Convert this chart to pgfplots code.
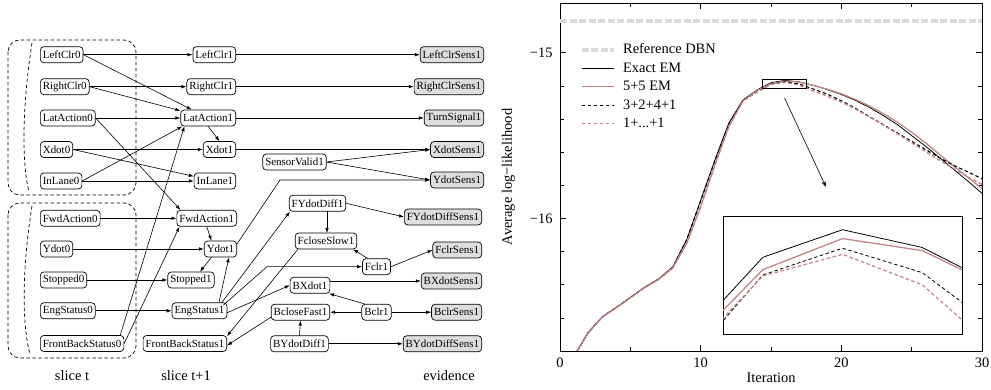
\documentclass[border=0pt]{standalone}
\usepackage{fontspec}
\setmainfont{Liberation Serif}
\usepackage{pgfplots}
\usepackage{pgfplotstable}
\pgfplotsset{compat=1.18}
\usetikzlibrary{arrows.meta}
\definecolor{pinkc}{RGB}{192,135,135}
\definecolor{refgray}{RGB}{218,218,218}
\definecolor{evgray}{RGB}{222,222,222}

\pgfplotstableread{
x exact five three one
1 -16.83 -16.83 -16.83 -16.83
2 -16.689 -16.692 -16.689 -16.692
3 -16.594 -16.596 -16.594 -16.596
4 -16.537 -16.539 -16.537 -16.539
5 -16.477 -16.479 -16.477 -16.479
6 -16.416 -16.418 -16.416 -16.418
7 -16.366 -16.368 -16.366 -16.368
8 -16.295 -16.300 -16.295 -16.300
9 -16.13 -16.15 -16.13 -16.15
10 -15.89 -15.93 -15.895 -15.93
11 -15.65 -15.68 -15.655 -15.68
12 -15.425 -15.445 -15.435 -15.445
13 -15.285 -15.29 -15.29 -15.292
14 -15.225 -15.2287 -15.2366 -15.2336
15 -15.181 -15.1873 -15.190 -15.1905
16 -15.167 -15.1715 -15.1764 -15.1795
17 -15.176 -15.1776 -15.1888 -15.195
18 -15.1966 -15.1972 -15.219 -15.2306
19 -15.222 -15.220 -15.25 -15.262
20 -15.252 -15.248 -15.29 -15.298
21 -15.288 -15.282 -15.335 -15.34
22 -15.33 -15.322 -15.385 -15.387
23 -15.38 -15.368 -15.435 -15.437
24 -15.435 -15.42 -15.485 -15.49
25 -15.50 -15.48 -15.535 -15.543
26 -15.565 -15.545 -15.585 -15.597
27 -15.635 -15.615 -15.635 -15.65
28 -15.705 -15.685 -15.68 -15.70
29 -15.775 -15.752 -15.72 -15.75
30 -15.848 -15.82 -15.76 -15.795
}\datatable

\begin{document}
\begin{tikzpicture}
\useasboundingbox (0,0) rectangle (991bp,390bp);
\begin{scope}[x=1bp,y=-1bp,yshift=390bp,
  nd/.style={draw, rounded corners=3.5bp, minimum height=16bp, inner xsep=2.5bp, inner ysep=0bp, line width=0.7bp, font=\fontsize{11}{13}\selectfont},
  ev/.style={nd, fill=evgray},
  e/.style={-{Latex[length=5bp,width=3.5bp]}, line width=0.6bp},
  grp/.style={dash pattern=on 3.5bp off 2.5bp, line width=0.7bp}]

% ---------- DBN diagram ----------
\draw[grp, rounded corners=12bp] (8,40) rectangle (136,195);
\draw[grp, rounded corners=12bp] (8,203) rectangle (136,358);
\draw[grp] (32,43) .. controls (23,100) and (21,160) .. (29,192);
\draw[grp] (32,206) .. controls (23,262) and (21,322) .. (30,354);

% slice t
\node[nd, anchor=west] (LeftClr0) at (40,54.7) {LeftClr0};
\node[nd, anchor=west] (RightClr0) at (40,86.7) {RightClr0};
\node[nd, anchor=west] (LatAction0) at (40,118) {LatAction0};
\node[nd, anchor=west] (Xdot0) at (40,149.5) {Xdot0};
\node[nd, anchor=west] (InLane0) at (40,181) {InLane0};
\node[nd, anchor=west] (FwdAction0) at (40,218.3) {FwdAction0};
\node[nd, anchor=west] (Ydot0) at (40,249) {Ydot0};
\node[nd, anchor=west] (Stopped0) at (40,280) {Stopped0};
\node[nd, anchor=west] (EngStatus0) at (40,310.8) {EngStatus0};
\node[nd, anchor=west] (FrontBackStatus0) at (40,343.5) {FrontBackStatus0};

% slice t+1
\node[nd, anchor=east] (LeftClr1) at (236,54.7) {LeftClr1};
\node[nd, anchor=east] (RightClr1) at (236,86.7) {RightClr1};
\node[nd, anchor=east] (LatAction1) at (236,118) {LatAction1};
\node[nd, anchor=east] (Xdot1) at (236,149.5) {Xdot1};
\node[nd, anchor=east] (InLane1) at (236,181) {InLane1};
\node[nd, anchor=east] (FwdAction1) at (237,218.3) {FwdAction1};
\node[nd, anchor=east] (Ydot1) at (237,249) {Ydot1};
\node[nd] (Stopped1) at (191,280) {Stopped1};
\node[nd] (EngStatus1) at (199.5,310.8) {EngStatus1};
\node[nd, anchor=east] (FrontBackStatus1) at (227,343.5) {FrontBackStatus1};

% middle
\node[nd] (SensorValid1) at (294.5,162) {SensorValid1};
\node[nd] (FYdotDiff1) at (317.5,203.3) {FYdotDiff1};
\node[nd] (FcloseSlow1) at (326,241) {FcloseSlow1};
\node[nd] (Fclr1) at (376.5,266.7) {Fclr1};
\node[nd] (BXdot1) at (310,285.3) {BXdot1};
\node[nd] (BcloseFast1) at (300.5,312.2) {BcloseFast1};
\node[nd] (Bclr1) at (376.5,312.2) {Bclr1};
\node[nd] (BYdotDiff1) at (299.5,343.8) {BYdotDiff1};

% evidence
\node[ev, anchor=east] (LeftClrSens1) at (484,54.7) {LeftClrSens1};
\node[ev, anchor=east] (RightClrSens1) at (484,86.7) {RightClrSens1};
\node[ev, anchor=east] (TurnSignal1) at (484,118) {TurnSignal1};
\node[ev, anchor=east] (XdotSens1) at (484,149.5) {XdotSens1};
\node[ev, anchor=east] (YdotSens1) at (484,180) {YdotSens1};
\node[ev, anchor=east] (FYdotDiffSens1) at (482,217) {FYdotDiffSens1};
\node[ev, anchor=east] (FclrSens1) at (482,250) {FclrSens1};
\node[ev, anchor=east] (BXdotSens1) at (482,281) {BXdotSens1};
\node[ev, anchor=east] (BclrSens1) at (482,312.2) {BclrSens1};
\node[ev, anchor=east] (BYdotDiffSens1) at (482,343.8) {BYdotDiffSens1};

% edges slice t -> slice t+1
\draw[e] (LeftClr0) -- (LeftClr1);
\draw[e] (LeftClr0.east) -- (LatAction1);
\draw[e] (RightClr0) -- (RightClr1);
\draw[e] (RightClr0.east) -- (LatAction1);
\draw[e] (LatAction0) -- (LatAction1);
\draw[e] (LatAction0.east) -- ([xshift=4bp]FwdAction1.north west);
\draw[e] (Xdot0) -- (Xdot1);
\draw[e] (Xdot0.east) -- (InLane1);
\draw[e] (InLane0) -- (InLane1);
\draw[e] (InLane0.east) -- ([xshift=2bp]LatAction1.south west);
\draw[e] ([xshift=-4bp]FrontBackStatus0.north east) -- ([xshift=4bp]LatAction1.south west);
\draw[e] (FrontBackStatus0.east) -- ([xshift=3bp]FwdAction1.south west);
\draw[e] (FwdAction0) -- (FwdAction1);
\draw[e] (Ydot0) -- (Ydot1);
\draw[e] (Stopped0) -- (Stopped1);
\draw[e] (EngStatus0) -- (EngStatus1);

% intra slice
\draw[e] (LatAction1.south) -- (Xdot1.north);
\draw[e] (FwdAction1.south) -- ([xshift=-9bp]Ydot1.north);
\draw[e] ([xshift=-9bp]Ydot1.south) -- ([xshift=9bp]Stopped1.north);
\draw[e] ([xshift=19.5bp]EngStatus1.north) -- ([xshift=8.5bp]Ydot1.south);

% to evidence
\draw[e] (LeftClr1) -- (LeftClrSens1);
\draw[e] (RightClr1) -- (RightClrSens1);
\draw[e] (LatAction1) -- (TurnSignal1);
\draw[e] (Xdot1) -- (XdotSens1);
\draw[e] (SensorValid1.east) -- (XdotSens1.west);
\draw[e] (SensorValid1.east) -- (YdotSens1.west);
\draw[e] ([yshift=5bp]Ydot1.east) -- (280,180) -- (YdotSens1.west);
\draw[e] (221.5,303) -- ([xshift=1bp]FYdotDiff1.south west);
\draw[e] (223.5,305) -- (267,266.7) -- (Fclr1.west);
\draw[e] (226.5,313) -- (BXdot1.west);
\draw[e] ([xshift=3bp]FcloseSlow1.south west) -- ([yshift=-1bp]FrontBackStatus1.north east);
\draw[e] ([yshift=-5bp]BcloseFast1.west) -- ([yshift=-2bp]FrontBackStatus1.east);
\draw[e] (327,211.3) -- (327,233);
\draw[e] (FYdotDiff1.east) -- (FYdotDiffSens1.west);
\draw[e] ([xshift=-9bp]Fclr1.north) -- ([xshift=-4bp]FcloseSlow1.south east);
\draw[e] (Fclr1.east) -- (FclrSens1.west);
\draw[e] (BXdot1.east |- 0,281) -- (BXdotSens1.west);
\draw[e] ([xshift=3bp]Bclr1.north west) -- ([xshift=-1bp]BXdot1.south east);
\draw[e] (Bclr1) -- (BcloseFast1);
\draw[e] (Bclr1) -- (BclrSens1);
\draw[e] (BYdotDiff1.north) -- (BcloseFast1.south);
\draw[e] (BYdotDiff1) -- (BYdotDiffSens1);

\node[font=\fontsize{14.5}{17}\selectfont] at (72,376) {slice t};
\node[font=\fontsize{14.5}{17}\selectfont] at (186,376) {slice t+1};
\node[font=\fontsize{14.5}{17}\selectfont] at (449,376) {evidence};
\end{scope}

% ---------- Chart ----------
\begin{axis}[at={(560bp,39bp)}, anchor=south west,
  width=422bp, height=348bp, scale only axis,
  xmin=0, xmax=30, ymin=-16.8, ymax=-14.7,
  xtick={0,10,20,30}, minor xtick={5,15,25},
  ytick={-16,-15}, yticklabels={−16,−15},
  minor ytick={-16.6,-16.4,-16.2,-15.8,-15.6,-15.4,-15.2,-14.8},
  tick align=inside, major tick length=6bp, minor tick length=4bp,
  tick style={black, line width=0.6bp},
  axis line style={line width=0.8bp},
  /pgf/number format/assume math mode=true,
  ticklabel style={font=\fontsize{14.5}{17}\selectfont},
  label style={font=\fontsize{14.5}{17}\selectfont},
  xticklabel shift=3bp, yticklabel shift=4bp,
  xlabel={Iteration}, ylabel={Average log−likelihood},
  xlabel shift=-1bp, ylabel shift=8bp,
  legend image code/.code={\draw[#1] (0bp,0bp) -- (32bp,0bp);},
  legend cell align=left,
  legend style={at={(rel axis cs:0.046,0.887)}, anchor=north west, draw=none, fill=none,
    font=\fontsize{14.5}{17}\selectfont, row sep=4bp, column sep=7bp, inner sep=0bp,
    nodes={inner sep=0.5bp, text height=10.5bp, text depth=3bp}},
]
\addplot[refgray, line width=4bp, dash pattern=on 7bp off 2.5bp] coordinates {(0,-14.81) (30,-14.81)};
\addlegendentry{Reference DBN}
\addplot[black, line width=0.8bp] table[x=x, y=exact] {\datatable};
\addlegendentry{Exact EM}
\addplot[pinkc, line width=1.3bp] table[x=x, y=five] {\datatable};
\addlegendentry{5+5 EM}
\addplot[black, line width=1.1bp, dash pattern=on 3.5bp off 2.5bp] table[x=x, y=three] {\datatable};
\addlegendentry{3+2+4+1}
\addplot[pinkc, line width=1.4bp, dash pattern=on 3.5bp off 2.5bp] table[x=x, y=one] {\datatable};
\addlegendentry{1+...+1}
\draw[line width=0.7bp] (axis cs:14.4,-15.158) rectangle (axis cs:17.5,-15.218);
\draw[line width=0.6bp, -{Stealth[length=6bp,width=4bp]}] (axis cs:15.96,-15.273) -- (axis cs:18.91,-15.81);
\end{axis}

% inset
\begin{axis}[at={(723bp,56bp)}, anchor=south west,
  width=239bp, height=118bp, scale only axis,
  xmin=14.5, xmax=17.5, ymin=-15.22, ymax=-15.16,
  xtick=\empty, ytick=\empty,
  axis line style={line width=0.8bp},
  axis background/.style={fill=white}]
\addplot[black, line width=0.8bp] table[x=x, y=exact] {\datatable};
\addplot[pinkc, line width=1.3bp] table[x=x, y=five] {\datatable};
\addplot[black, line width=0.8bp, dash pattern=on 3.5bp off 2.5bp] table[x=x, y=three] {\datatable};
\addplot[pinkc, line width=1.2bp, dash pattern=on 3.5bp off 2.5bp] table[x=x, y=one] {\datatable};
\end{axis}
\end{tikzpicture}
\end{document}
